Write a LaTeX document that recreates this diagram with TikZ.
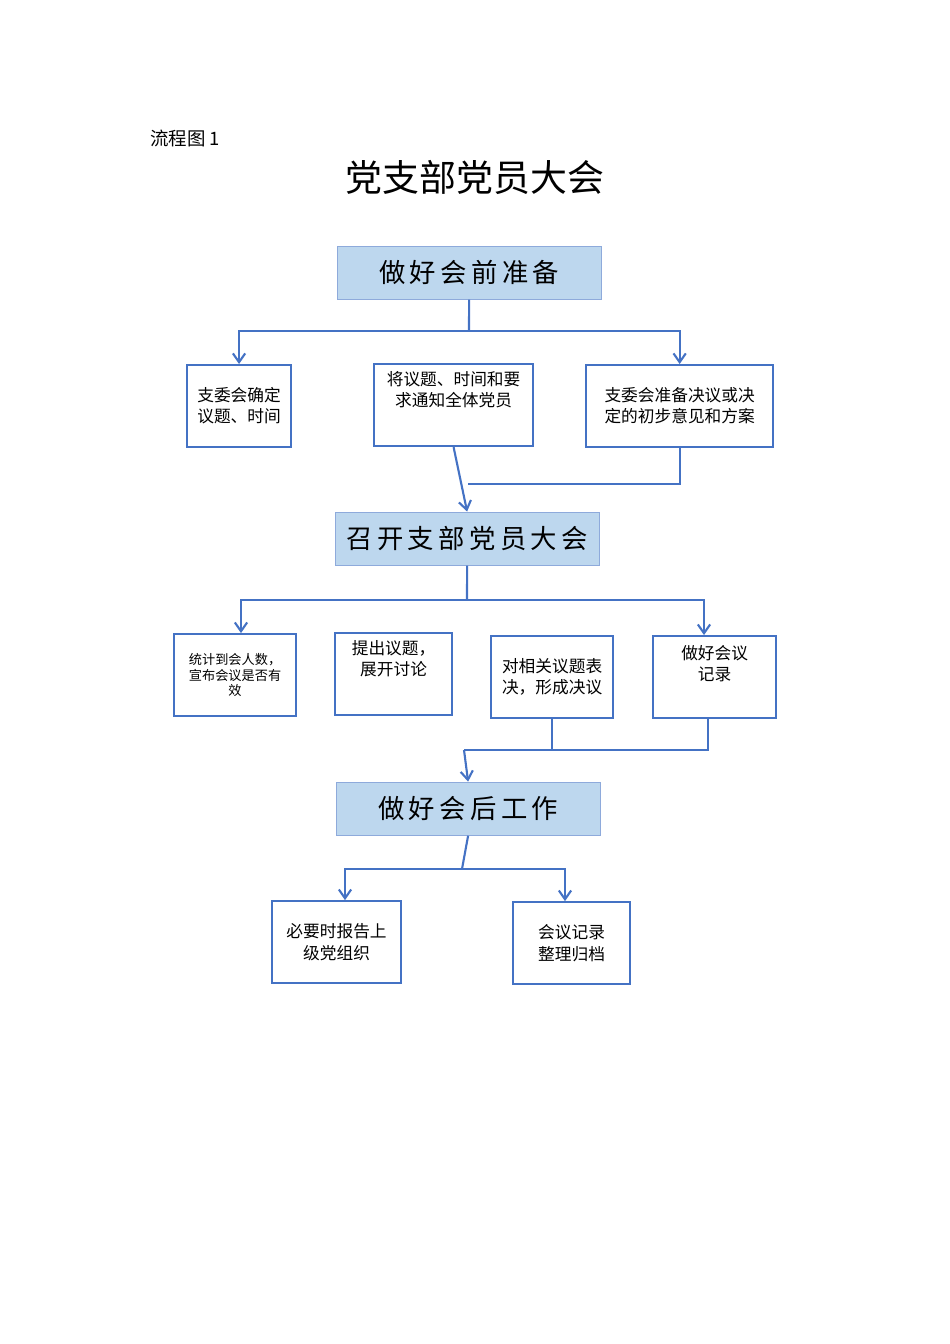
\documentclass[tikz,border=0pt]{standalone}
\usepackage{fontspec}
\setmainfont{Noto Sans CJK SC}
\usetikzlibrary{positioning,arrows.meta}
\definecolor{lineblue}{HTML}{4472C4}
\definecolor{fillblue}{HTML}{BDD7EE}
\definecolor{edgeblue}{HTML}{8EAADB}
\tikzset{
  stage/.style={draw=edgeblue, fill=fillblue, line width=0.6pt, font=\fontsize{15}{18}\selectfont, align=center},
  task/.style={draw=lineblue, line width=1.2pt, align=center, font=\fontsize{9.5}{12}\selectfont},
  link/.style={draw=lineblue, line width=1.2pt},
  arr/.style={link, -{Straight Barb[length=5pt,width=7pt]}}
}
\newcommand{\boxat}[6]{% name, x1, y1, x2, y2, style
  \node[#6, minimum width={(#4-#2)*0.02cm}, minimum height={(#5-#3)*0.02cm}, inner sep=1pt]
    (#1) at ({(#2+#4)/2*0.02},{-(#3+#5)/2*0.02})}
\begin{document}
\begin{tikzpicture}
  \useasboundingbox (0,0) rectangle (19,-26.88);
  \node[anchor=west, font=\fontsize{10.5}{12}\selectfont] (cap) at (2.88,-2.76) {流程图 1};
  \node[font=\fontsize{21}{24}\selectfont] (title) at (9.5,-3.54) {党支部党员大会};

  % Before the meeting
  \boxat{pre}{337}{246}{601}{299}{stage} {做\,好\,会\,前\,准\,备};
  \boxat{b1}{187}{365}{291}{447}{task} {支委会确定\\议题、时间};
  \boxat{b2}{374}{364}{533}{446}{task} {将议题、时间和要\\求通知全体党员\\[6pt]};
  \boxat{b3}{586}{365}{773}{447}{task} {支委会准备决议或决\\定的初步意见和方案};

  % The meeting
  \boxat{meet}{335}{512}{599}{565}{stage} {召\,开\,支\,部\,党\,员\,大\,会};
  \boxat{d1}{174}{634}{296}{716}{task,font=\fontsize{7.5}{9}\selectfont} {统计到会人数，\\宣布会议是否有\\效};
  \boxat{d2}{335}{633}{452}{715}{task} {提出议题，\\展开讨论\\[6pt]};
  \boxat{d3}{491}{636}{613}{718}{task} {对相关议题表\\决，形成决议};
  \boxat{d4}{653}{636}{776}{718}{task} {做好会议\\记录\\[4pt]};

  % After the meeting
  \boxat{post}{336}{782}{600}{835}{stage} {做\,好\,会\,后\,工\,作};
  \boxat{f1}{272}{901}{401}{983}{task} {必要时报告上\\级党组织};
  \boxat{f2}{513}{902}{630}{984}{task} {会议记录\\整理归档};

  % junctions
  \coordinate (j1) at (9.38,-6.62);
  \coordinate (j2) at (9.36,-9.68);
  \coordinate (j3) at (9.34,-12.0);
  \coordinate (j4) at (9.28,-15.0);
  \coordinate (j5) at (9.24,-17.38);
  \coordinate (k1) at (4.82,-12.0);
  \coordinate (k4) at (14.08,-12.0);
  \coordinate (m4) at (14.16,-15.0);
  \coordinate (f1in) at (6.9,-17.38);
  \coordinate (f2in) at (11.3,-17.38);

  \draw[link] (pre.south) -- (j1);
  \draw[arr] (j1) -- (j1 -| b1) -- (b1.north);
  \draw[arr] (j1) -- (j1 -| b3) -- (b3.north);
  \draw[arr] (b2.south) -- (meet.north);
  \draw[link] (b3.south) -- (b3.south |- j2) -- (j2);

  \draw[link] (meet.south) -- (j3);
  \draw[arr] (j3) -- (k1) -- (k1 |- d1.north);
  \draw[arr] (j3) -- (k4) -- (k4 |- d4.north);
  \draw[link] (d3.south) -- (d3.south |- j4);
  \draw[link] (m4 |- d4.south) -- (m4) -- (j4);
  \draw[arr] (j4) -- (post.north);

  \draw[link] (post.south) -- (j5);
  \draw[arr] (j5) -- (f1in) -- (f1in |- f1.north);
  \draw[arr] (j5) -- (f2in) -- (f2in |- f2.north);
\end{tikzpicture}
\end{document}
